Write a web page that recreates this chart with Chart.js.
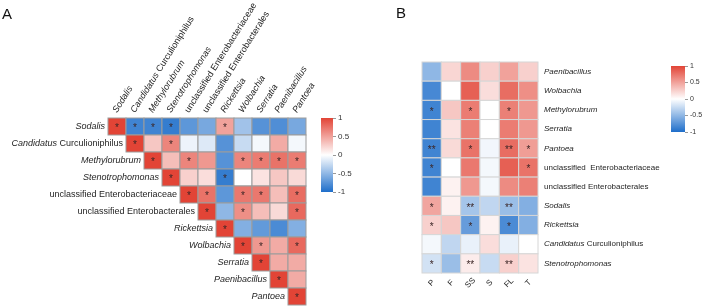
<!DOCTYPE html>
<html>
<head>
<meta charset="utf-8">
<script src="https://cdn.jsdelivr.net/npm/chart.js@4.4.0/dist/chart.umd.min.js"></script>
<style>
  body { margin: 0; background: #fff; }
  #wrap { position: relative; width: 702px; height: 306px; overflow: hidden; }
  #wrap canvas { position: absolute; left: 0; top: 0; }
  .tag { position: absolute; font: 15px "Liberation Sans", Arial, sans-serif; color: #111; }
</style>
</head>
<body>
<div id="wrap">
  <canvas id="heatA" width="702" height="306"></canvas>
  <canvas id="barA" width="702" height="306"></canvas>
  <canvas id="heatB" width="702" height="306"></canvas>
  <canvas id="barB" width="702" height="306"></canvas>
  <div class="tag" style="left:2px;top:5px">A</div>
  <div class="tag" style="left:396px;top:4px">B</div>
</div>
<script>
// ---- data ----
const taxaA = ['Sodalis', 'Candidatus Curculioniphilus', 'Methylorubrum', 'Stenotrophomonas',
  'unclassified Enterobacteriaceae', 'unclassified Enterobacterales', 'Rickettsia',
  'Wolbachia', 'Serratia', 'Paenibacillus', 'Pantoea'];

// upper triangle only (null = not drawn)
const corrA = [
  [1, -0.85, -0.85, -0.9, -0.72, -0.6, 0.5, -0.42, -0.75, -0.78, -0.6],
  [null, 1, 0.3, 0.65, -0.08, -0.15, -0.75, -0.25, -0.05, 0.45, -0.05],
  [null, null, 1, 0.35, 0.65, 0.55, -0.75, 0.65, 0.7, 0.75, 0.7],
  [null, null, null, 1, 0.25, 0.18, -0.9, 0, 0.15, 0.3, 0.2],
  [null, null, null, null, 1, 0.75, -0.72, 0.72, 0.72, 0.35, 0.78],
  [null, null, null, null, null, 1, -0.5, 0.6, 0.35, 0.2, 0.8],
  [null, null, null, null, null, null, 1, -0.55, -0.7, -0.8, -0.55],
  [null, null, null, null, null, null, null, 1, 0.55, 0.45, 0.8],
  [null, null, null, null, null, null, null, null, 1, 0.45, 0.45],
  [null, null, null, null, null, null, null, null, null, 1, 0.45],
  [null, null, null, null, null, null, null, null, null, null, 1]
];

const sigA = [
  ['*', '*', '*', '*', '', '', '*', '', '', '', ''],
  ['', '*', '', '*', '', '', '', '', '', '', ''],
  ['', '', '*', '', '*', '', '', '*', '*', '*', '*'],
  ['', '', '', '*', '', '', '*', '', '', '', ''],
  ['', '', '', '', '*', '*', '', '*', '*', '', '*'],
  ['', '', '', '', '', '*', '', '*', '', '', '*'],
  ['', '', '', '', '', '', '*', '', '', '', ''],
  ['', '', '', '', '', '', '', '*', '*', '', '*'],
  ['', '', '', '', '', '', '', '', '*', '', ''],
  ['', '', '', '', '', '', '', '', '', '*', ''],
  ['', '', '', '', '', '', '', '', '', '', '*']
];

const taxaB = ['Paenibacillus', 'Wolbachia', 'Methylorubrum', 'Serratia', 'Pantoea',
  'unclassified  Enterobacteriaceae', 'unclassified Enterobacterales', 'Sodalis',
  'Rickettsia', 'Candidatus Curculioniphilus', 'Stenotrophomonas'];
const factorsB = ['P', 'F', 'SS', 'S', 'FL', 'T'];

const corrB = [
  [-0.5, 0.22, 0.62, 0.25, 0.5, 0.25],
  [-0.82, 0, 0.85, 0.18, 0.78, 0.6],
  [-0.85, 0.3, 0.7, 0, 0.68, 0.55],
  [-0.85, 0.15, 0.68, 0, 0.7, 0.55],
  [-0.85, 0.2, 0.75, -0.06, 0.78, 0.52],
  [-0.85, 0, 0.72, -0.05, 0.85, 0.75],
  [-0.85, 0.07, 0.55, -0.05, 0.62, 0.68],
  [0.48, 0.07, -0.4, -0.28, -0.45, -0.55],
  [0.25, 0.3, -0.68, 0.07, -0.8, -0.55],
  [-0.05, -0.28, -0.1, 0.18, -0.1, 0],
  [-0.2, -0.45, 0.1, -0.25, 0.25, 0.15]
];

const sigB = [
  ['', '', '', '', '', ''],
  ['', '', '', '', '', ''],
  ['*', '', '*', '', '*', ''],
  ['', '', '', '', '', ''],
  ['**', '', '*', '', '**', '*'],
  ['*', '', '', '', '', '*'],
  ['', '', '', '', '', ''],
  ['*', '', '**', '', '**', ''],
  ['*', '', '*', '', '*', ''],
  ['', '', '', '', '', ''],
  ['*', '', '**', '', '**', '']
];

const legendTicks = [-1, -0.5, 0, 0.5, 1];

// ---- helpers ----
const FONT = '"Liberation Sans", Arial, sans-serif';
const RED = [226, 68, 54];
const BLUE = [30, 110, 202];

function corrColor(v) {
  const end = v >= 0 ? RED : BLUE;
  const t = Math.min(Math.abs(v), 1);
  const c = end.map(e => Math.round(255 + (e - 255) * t));
  return `rgb(${c[0]},${c[1]},${c[2]})`;
}

// split a taxon name into italic / upright pieces
function nameParts(name) {
  if (name.startsWith('Candidatus ')) {
    return [{ text: 'Candidatus', it: true }, { text: name.slice(10), it: false }];
  }
  if (name.startsWith('unclassified')) return [{ text: name, it: false }];
  return [{ text: name, it: true }];
}

function drawName(ctx, name, x, y, align, size) {
  const parts = nameParts(name);
  let total = 0;
  parts.forEach(p => {
    ctx.font = `${p.it ? 'italic ' : ''}${size}px ${FONT}`;
    p.w = ctx.measureText(p.text).width;
    total += p.w;
  });
  let cx = align === 'right' ? x - total : x;
  ctx.textAlign = 'left';
  parts.forEach(p => {
    ctx.font = `${p.it ? 'italic ' : ''}${size}px ${FONT}`;
    ctx.fillText(p.text, cx, y);
    cx += p.w;
  });
}

function toPoints(matrix, sig) {
  const pts = [];
  matrix.forEach((row, i) => row.forEach((v, j) => {
    if (v !== null) pts.push({ x: j, y: i, v: v, s: sig[i][j] });
  }));
  return pts;
}

// cells are drawn from the chart's own x / y scales
const heatCells = {
  id: 'heatCells',
  beforeDatasetsDraw(chart, args, opts) {
    const { ctx, scales: { x, y } } = chart;
    ctx.save();
    chart.data.datasets[0].data.forEach(p => {
      const x0 = x.getPixelForValue(p.x - 0.5), x1 = x.getPixelForValue(p.x + 0.5);
      const y0 = y.getPixelForValue(p.y - 0.5), y1 = y.getPixelForValue(p.y + 0.5);
      ctx.fillStyle = corrColor(p.v);
      ctx.fillRect(x0, y0, x1 - x0, y1 - y0);
      ctx.strokeStyle = opts.border;
      ctx.lineWidth = 1;
      ctx.strokeRect(x0, y0, x1 - x0, y1 - y0);
      if (p.s) {
        ctx.fillStyle = '#3b2626';
        ctx.font = `${opts.starSize}px ${FONT}`;
        ctx.textAlign = 'center';
        ctx.textBaseline = 'middle';
        ctx.fillText(p.s, (x0 + x1) / 2, (y0 + y1) / 2 + 2);
      }
    });
    ctx.restore();
  }
};

const labelsA = {
  id: 'labelsA',
  afterDraw(chart) {
    const { ctx, scales: { x, y } } = chart;
    ctx.save();
    ctx.fillStyle = '#1e1e1e';
    ctx.textBaseline = 'middle';
    // row labels sit just left of the diagonal cell
    taxaA.forEach((t, i) => {
      drawName(ctx, t, x.getPixelForValue(i - 0.5) - 3, y.getPixelForValue(i), 'right', 9);
    });
    // column labels along the top, slanted
    taxaA.forEach((t, j) => {
      ctx.save();
      ctx.translate(x.getPixelForValue(j) - 2, y.getPixelForValue(-0.5) - 6);
      ctx.rotate(-58 * Math.PI / 180);
      drawName(ctx, t, 0, 0, 'left', 9);
      ctx.restore();
    });
    ctx.restore();
  }
};

const labelsB = {
  id: 'labelsB',
  afterDraw(chart) {
    const { ctx, scales: { x, y } } = chart;
    ctx.save();
    ctx.fillStyle = '#1e1e1e';
    ctx.textBaseline = 'middle';
    taxaB.forEach((t, i) => {
      drawName(ctx, t, x.getPixelForValue(5.5) + 6, y.getPixelForValue(i), 'left', 8);
    });
    factorsB.forEach((f, j) => {
      ctx.save();
      ctx.translate(x.getPixelForValue(j), y.getPixelForValue(10.5) + 10);
      ctx.rotate(-45 * Math.PI / 180);
      ctx.font = `8px ${FONT}`;
      ctx.textAlign = 'center';
      ctx.fillText(f, 0, 0);
      ctx.restore();
    });
    ctx.restore();
  }
};

function heatChart(id, points, nCols, nRows, pad, opts, labelPlugin) {
  return new Chart(document.getElementById(id), {
    type: 'scatter',
    data: { datasets: [{ data: points, pointRadius: 0 }] },
    options: {
      responsive: false,
      animation: false,
      layout: { padding: pad },
      plugins: { legend: { display: false }, tooltip: { enabled: false }, heatCells: opts },
      scales: {
        x: { type: 'linear', min: -0.5, max: nCols - 0.5, display: false },
        y: { type: 'linear', min: -0.5, max: nRows - 0.5, reverse: true, display: false }
      }
    },
    plugins: [heatCells, labelPlugin]
  });
}

function colorBar(id, pad, axisWidth, fontSize) {
  return new Chart(document.getElementById(id), {
    type: 'bar',
    data: {
      labels: [''],
      datasets: [{
        data: [[-1, 1]],
        categoryPercentage: 1,
        barPercentage: 1,
        borderWidth: 0,
        backgroundColor(c) {
          const ch = c.chart;
          if (!ch.chartArea) return '#fff';
          const ys = ch.scales.y;
          const g = ch.ctx.createLinearGradient(0, ys.getPixelForValue(1), 0, ys.getPixelForValue(-1));
          legendTicks.forEach(v => g.addColorStop((1 - v) / 2, corrColor(v)));
          return g;
        }
      }]
    },
    options: {
      responsive: false,
      animation: false,
      layout: { padding: pad },
      plugins: { legend: { display: false }, tooltip: { enabled: false } },
      scales: {
        x: { display: false },
        y: {
          position: 'right',
          min: -1,
          max: 1,
          afterBuildTicks(s) { s.ticks = legendTicks.map(v => ({ value: v })); },
          afterFit(s) { s.width = axisWidth; },
          ticks: {
            color: '#333',
            padding: 2,
            font: { family: FONT, size: fontSize },
            callback: v => String(v)
          },
          grid: { drawOnChartArea: false, tickLength: 3, color: '#999' },
          border: { display: false }
        }
      }
    }
  });
}

heatChart('heatA', toPoints(corrA, sigA), 11, 11,
  { left: 108, top: 118, right: 396, bottom: 1 },
  { border: '#9c9c9c', starSize: 10 }, labelsA);

heatChart('heatB', toPoints(corrB, sigB), 6, 11,
  { left: 422, top: 62, right: 164, bottom: 33 },
  { border: '#d6d6d6', starSize: 10 }, labelsB);

colorBar('barA', { left: 321, top: 118, right: 702 - 333 - 30, bottom: 306 - 192 }, 30, 8);
colorBar('barB', { left: 671, top: 66, right: 702 - 685 - 17, bottom: 306 - 132 }, 17, 7);
</script>
</body>
</html>
